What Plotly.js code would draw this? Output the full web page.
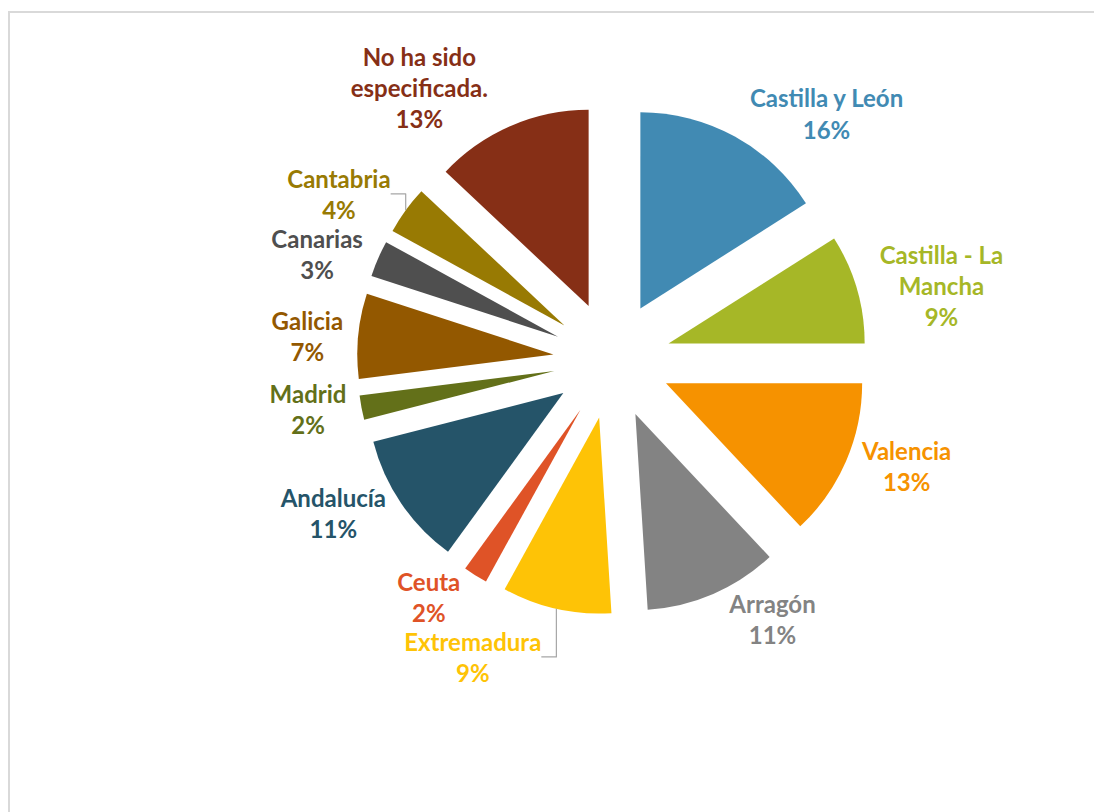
<!DOCTYPE html>
<html>
<head>
<meta charset="utf-8">
<script src="https://cdn.plot.ly/plotly-3.0.1.min.js"></script>
<style>
html,body{margin:0;padding:0;background:#fff;}
#frame{position:absolute;left:8px;top:11px;width:1086px;height:801px;border-top:2px solid #d9d9d9;border-left:2px solid #d9d9d9;}
#chart{position:absolute;left:0;top:0;width:1094px;height:812px;}
</style>
</head>
<body>
<div id="frame"></div>
<div id="chart"></div>
<script>
const regions = ["Castilla y León","Castilla - La<br>Mancha","Valencia","Arragón","Extremadura","Ceuta","Andalucía","Madrid","Galicia","Canarias","Cantabria","No ha sido<br>especificada."];
const shares = [16,9,13,11,9,2,11,2,7,3,4,13];
const colors = ["#418AB3","#A6B727","#F69200","#838383","#FEC306","#DF5327","#255469","#637019","#935800","#4F4F4F","#987A03","#862F16"];

const trace = {
  type: "pie",
  labels: regions,
  values: shares,
  sort: false,
  direction: "clockwise",
  rotation: 0,
  pull: shares.map(() => 0.3),
  marker: {colors: colors, line: {width: 0}},
  textposition: "outside",
  texttemplate: "%{label}<br>%{percent:.0%}",
  hoverinfo: "label+percent",
  outsidetextfont: {family: "Lato, 'Open Sans', sans-serif", size: 24, color: colors, weight: "bold"},
  domain: {x: [357/1094, 867/1094], y: [1 - 615/812, 1 - 105/812]},
  showlegend: false
};

Plotly.newPlot("chart", [trace], {
  width: 1094, height: 812,
  margin: {l: 0, r: 0, t: 0, b: 0},
  paper_bgcolor: "rgba(0,0,0,0)",
  plot_bgcolor: "rgba(0,0,0,0)",
  showlegend: false
}, {displayModeBar: false, staticPlot: true}).then(function () {
  document.querySelectorAll("#chart path.textline").forEach(function (p) {
    p.style.stroke = "#a6a6a6";
    p.style.strokeWidth = "1.2px";
  });
});
</script>
</body>
</html>
